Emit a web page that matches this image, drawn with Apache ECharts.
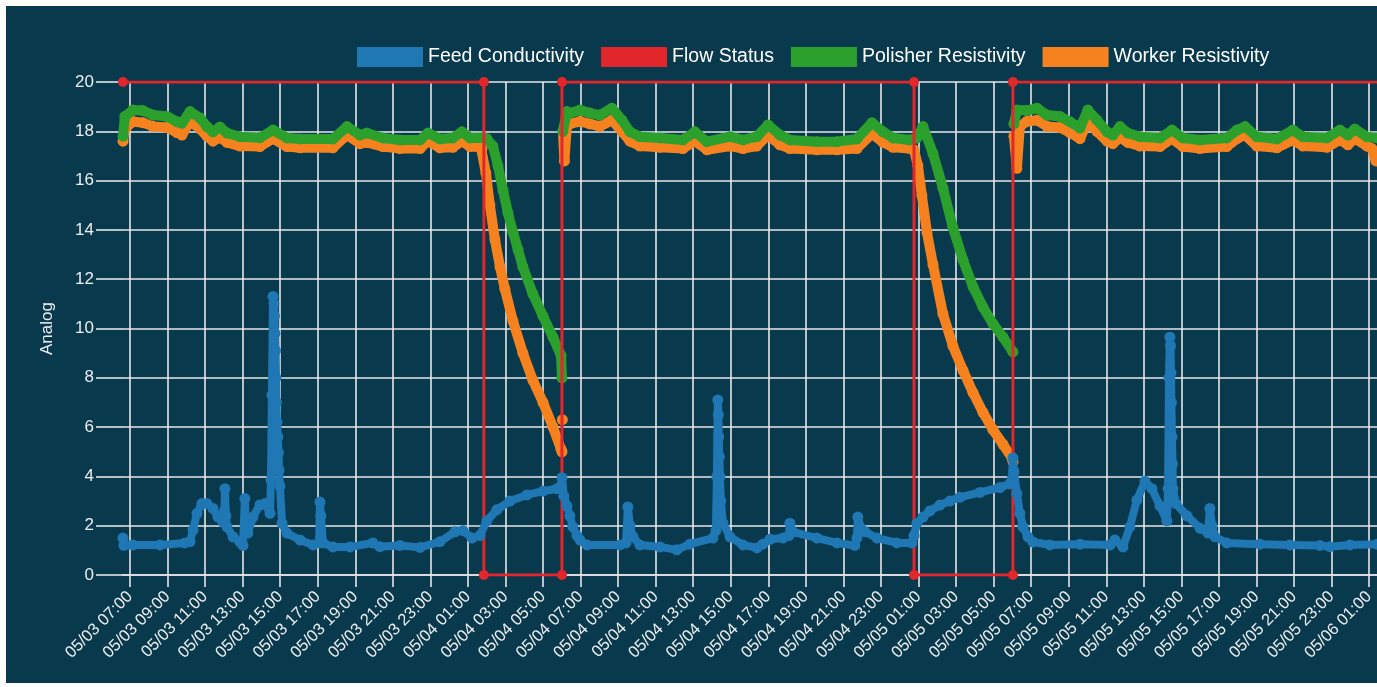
<!DOCTYPE html>
<html><head><meta charset="utf-8">
<script src="https://cdn.jsdelivr.net/npm/echarts@6/dist/echarts.min.js"></script>
<style>
html,body{margin:0;padding:0;background:#ffffff;width:1377px;height:687px;overflow:hidden}
#chart{position:absolute;left:6px;top:6px;width:1371px;height:677px;background:#08394d}
</style></head><body><div id="chart"></div>
<script>
// x values are hours counted from 05/03 00:00
const tickLabels = ['05/03 07:00','05/03 09:00','05/03 11:00','05/03 13:00','05/03 15:00','05/03 17:00','05/03 19:00','05/03 21:00','05/03 23:00',
  '05/04 01:00','05/04 03:00','05/04 05:00','05/04 07:00','05/04 09:00','05/04 11:00','05/04 13:00','05/04 15:00','05/04 17:00','05/04 19:00','05/04 21:00','05/04 23:00',
  '05/05 01:00','05/05 03:00','05/05 05:00','05/05 07:00','05/05 09:00','05/05 11:00','05/05 13:00','05/05 15:00','05/05 17:00','05/05 19:00','05/05 21:00','05/05 23:00',
  '05/06 01:00'];
const yTicks = [0,2,4,6,8,10,12,14,16,18,20];
const seriesNames = ['Feed Conductivity','Flow Status','Polisher Resistivity','Worker Resistivity'];
const X_MIN = 6.63, X_MAX = 73.42;

const flowStatus = [[6.63,20],[25.85,20],[25.85,0],[30.01,0],[30.01,20],[48.76,20],[48.76,0],[54.03,0],[54.03,20],[74.5,20]];

const feedConductivity = [[6.63,1.5],[6.68,1.2],[7.16,1.22],[8.60,1.22],[9.93,1.3],[10.20,1.35],[10.36,1.83],[10.57,2.5],[10.83,2.9],[11.10,2.9],[11.42,2.7],[11.69,2.35],[11.95,2.15],[12.03,2.6],[12.06,3.5],[12.11,2.4],[12.17,1.95],[12.49,1.55],[12.86,1.34],[13.02,1.2],[13.12,3.1],[13.18,2.0],[13.28,1.7],[13.55,2.35],[13.92,2.84],[14.19,2.9],[14.46,2.5],[14.51,3.85],[14.56,7.3],[14.62,11.3],[14.67,11.0],[14.70,10.5],[14.72,9.8],[14.75,9.1],[14.78,8.0],[14.80,7.0],[14.83,6.2],[14.88,5.6],[14.91,4.95],[14.94,4.26],[14.99,3.6],[15.10,2.1],[15.36,1.7],[16.06,1.42],[16.75,1.22],[17.07,1.3],[17.12,2.96],[17.17,2.4],[17.28,1.3],[17.81,1.14],[18.72,1.14],[19.94,1.3],[20.31,1.15],[21.38,1.2],[22.45,1.12],[23.51,1.35],[24.31,1.75],[24.74,1.8],[25.22,1.5],[25.64,1.6],[26.01,2.2],[26.55,2.65],[27.24,3.0],[28.14,3.25],[29.00,3.4],[29.74,3.5],[29.96,3.6],[30.01,3.95],[30.11,3.2],[30.27,2.8],[30.43,2.4],[30.59,1.95],[30.81,1.6],[30.97,1.42],[31.34,1.22],[33.10,1.22],[33.42,1.3],[33.52,2.76],[33.63,2.0],[33.79,1.55],[34.16,1.22],[35.23,1.14],[36.13,1.02],[36.82,1.25],[38.05,1.5],[38.21,1.8],[38.26,4.0],[38.31,7.1],[38.34,6.5],[38.36,5.6],[38.39,4.8],[38.42,4.0],[38.47,3.0],[38.58,2.1],[38.96,1.55],[39.65,1.22],[40.39,1.1],[40.71,1.25],[41.09,1.45],[41.78,1.5],[42.10,1.6],[42.15,2.1],[42.31,1.75],[43.59,1.5],[44.66,1.3],[45.61,1.2],[45.72,1.5],[45.77,2.35],[45.93,1.9],[46.15,1.75],[46.79,1.5],[47.85,1.3],[48.65,1.3],[48.76,1.6],[48.92,2.1],[49.24,2.35],[49.61,2.6],[50.14,2.84],[50.67,3.0],[51.20,3.15],[52.27,3.35],[53.34,3.55],[53.87,3.7],[53.98,3.9],[54.03,4.75],[54.08,4.2],[54.24,3.3],[54.40,2.5],[54.56,1.95],[54.83,1.55],[55.09,1.34],[56.00,1.22],[57.60,1.25],[59.20,1.22],[59.46,1.42],[59.89,1.14],[60.26,1.95],[60.63,3.04],[61.06,3.8],[61.43,3.5],[61.86,2.8],[62.23,2.2],[62.29,3.5],[62.34,8.0],[62.39,9.65],[62.42,9.3],[62.45,8.2],[62.47,7.0],[62.50,5.6],[62.53,4.5],[62.55,3.5],[62.71,2.9],[63.30,2.4],[63.99,1.9],[64.42,1.7],[64.52,2.7],[64.63,2.0],[64.79,1.55],[65.42,1.3],[67.18,1.25],[68.78,1.22],[70.38,1.2],[70.91,1.15],[71.98,1.22],[73.42,1.25],[74.10,1.2]];

// null entries mark the gaps while the flow is off
const polisherResistivity = [[6.63,17.8],[6.73,18.6],[7.16,18.86],[7.69,18.84],[8.22,18.66],[8.97,18.6],[9.50,18.39],[9.77,18.33],[10.20,18.8],[10.73,18.54],[11.10,18.19],[11.42,17.98],[11.79,18.17],[12.17,17.93],[12.86,17.78],[13.92,17.74],[14.62,18.05],[15.36,17.73],[16.06,17.69],[17.81,17.69],[18.56,18.19],[19.25,17.85],[19.62,17.93],[20.47,17.73],[21.38,17.65],[22.45,17.65],[22.87,17.93],[23.51,17.69],[24.20,17.73],[24.68,17.98],[25.11,17.73],[25.80,17.74],[26.01,17.7],[26.33,17.4],[26.60,16.6],[26.87,15.6],[27.13,14.7],[27.40,13.9],[27.67,13.2],[27.93,12.5],[28.46,11.4],[29.00,10.5],[29.53,9.65],[29.96,8.9],[30.01,8.0],[30.03,null],[30.06,18.0],[30.27,18.8],[30.43,18.74],[30.97,18.86],[31.50,18.74],[32.03,18.66],[32.67,18.94],[33.20,18.46],[33.63,17.98],[34.16,17.78],[35.23,17.73],[36.45,17.65],[37.09,17.98],[37.73,17.58],[38.96,17.78],[39.65,17.65],[40.39,17.78],[40.98,18.26],[41.62,17.85],[42.15,17.65],[43.59,17.58],[44.66,17.58],[45.72,17.69],[46.52,18.35],[47.11,17.98],[47.64,17.73],[48.54,17.65],[48.92,17.73],[49.24,18.19],[49.77,17.1],[50.30,15.7],[50.83,14.1],[51.37,12.78],[51.90,11.7],[52.43,10.87],[52.96,10.2],[53.50,9.65],[54.03,9.05],[54.05,null],[54.08,18.3],[54.24,18.86],[54.77,18.84],[55.31,18.94],[55.84,18.66],[56.53,18.6],[57.06,18.39],[57.60,18.13],[58.02,18.86],[58.50,18.46],[59.04,17.98],[59.35,17.85],[59.73,18.19],[60.15,17.93],[60.79,17.78],[61.86,17.73],[62.50,18.05],[63.08,17.73],[63.99,17.65],[65.42,17.73],[65.96,18.05],[66.39,18.19],[67.02,17.78],[68.09,17.69],[68.94,18.05],[69.47,17.78],[70.75,17.73],[71.44,18.05],[71.87,17.85],[72.24,18.09],[72.88,17.78],[73.42,17.73],[74.10,17.7]];

const workerResistivity = [[6.63,17.6],[6.73,18.1],[7.16,18.4],[7.69,18.35],[8.22,18.2],[8.97,18.15],[9.50,17.95],[9.77,17.85],[10.20,18.4],[10.73,18.1],[11.10,17.8],[11.42,17.6],[11.79,17.75],[12.17,17.55],[12.86,17.4],[13.92,17.38],[14.62,17.7],[15.36,17.38],[16.06,17.33],[17.81,17.33],[18.56,17.85],[19.25,17.5],[19.62,17.55],[20.47,17.38],[21.38,17.3],[22.45,17.3],[22.87,17.6],[23.51,17.33],[24.20,17.35],[24.68,17.6],[25.11,17.38],[25.69,17.35],[25.75,17.3],[25.96,16.3],[26.17,15.0],[26.44,13.6],[26.71,12.5],[26.97,11.6],[27.40,10.3],[27.93,9.0],[28.46,7.9],[29.00,7.0],[29.53,6.0],[29.96,5.1],[30.01,5.0],[30.02,null],[30.03,6.3],[30.04,null],[30.06,18.0],[30.14,16.8],[30.27,18.2],[30.43,18.3],[30.97,18.4],[31.50,18.3],[32.03,18.2],[32.67,18.45],[33.20,18.0],[33.63,17.6],[34.16,17.4],[35.23,17.35],[36.45,17.3],[37.09,17.6],[37.73,17.25],[38.96,17.4],[39.65,17.3],[40.39,17.4],[40.98,17.85],[41.62,17.45],[42.15,17.3],[43.59,17.25],[44.66,17.25],[45.72,17.3],[46.52,17.9],[47.11,17.55],[47.64,17.35],[48.54,17.3],[48.76,17.25],[48.97,16.6],[49.18,15.4],[49.45,13.9],[49.77,12.6],[50.30,10.6],[50.83,9.3],[51.37,8.3],[51.90,7.4],[52.43,6.6],[52.96,5.9],[53.50,5.3],[53.98,4.75],[54.03,4.6],[54.05,null],[54.08,17.8],[54.24,16.5],[54.40,18.2],[54.77,18.4],[55.31,18.45],[55.84,18.2],[56.53,18.15],[57.06,17.95],[57.60,17.7],[58.02,18.4],[58.50,18.0],[59.04,17.6],[59.35,17.5],[59.73,17.75],[60.15,17.55],[60.79,17.4],[61.86,17.38],[62.50,17.7],[63.08,17.38],[63.99,17.3],[65.42,17.38],[65.96,17.7],[66.39,17.85],[67.02,17.4],[68.09,17.33],[68.94,17.65],[69.47,17.4],[70.75,17.35],[71.44,17.65],[71.87,17.45],[72.24,17.7],[72.88,17.4],[73.15,17.3],[73.36,16.8],[74.10,16.6]];

const COLORS = {feed:'#1f77b4', flow:'#e1262c', pol:'#2ca02c', work:'#f5821f'};
const GRID_COLOR = '#e6e8ea';
const FONT = 'Liberation Sans, Arial, Helvetica, sans-serif';

function tickHour(label){
  const day = parseInt(label.slice(3,5),10), hour = parseInt(label.slice(6,8),10);
  return (day-3)*24 + hour;
}
const tickHours = tickLabels.map(tickHour);
const labelByHour = {};
tickLabels.forEach((l,i)=>{ labelByHour[tickHours[i]] = l; });

const chart = echarts.init(document.getElementById('chart'), null, {renderer:'canvas'});
const baseLine = (name, data, color, width, sym, z) => ({
  name, type:'line', data, z,
  color,
  lineStyle:{color, width, cap:'round', join:'round'},
  itemStyle:{color},
  symbol:'circle', symbolSize:sym, showSymbol:true, showAllSymbol:true,
  connectNulls:false,
  emphasis:{disabled:true}, animation:false, clip:true
});
chart.setOption({
  animation:false,
  backgroundColor:'transparent',
  legend:{
    top:36, left:346, itemWidth:66, itemHeight:20, itemGap:17, icon:'rect',
    data:seriesNames,
    textStyle:{color:'#ffffff', fontSize:19.5, fontFamily:FONT},
    selectedMode:false
  },
  grid:{left:117, right:0, top:76, bottom:108, containLabel:false, outerBoundsMode:'none'},
  xAxis:{
    type:'value', min:X_MIN, max:X_MAX,
    axisLine:{show:true, lineStyle:{color:GRID_COLOR, width:1.6}},
    axisTick:{show:true, length:12, customValues:tickHours, lineStyle:{color:GRID_COLOR, width:1.6}},
    axisLabel:{customValues:tickHours, rotate:45, margin:19, color:'#eeeeee', fontSize:16.5, fontFamily:FONT,
      formatter:(v)=> labelByHour[Math.round(v)] || ''},
    splitLine:{show:true, lineStyle:{color:GRID_COLOR, width:1.6}}
  },
  yAxis:{
    type:'value', min:yTicks[0], max:yTicks[yTicks.length-1], interval:2,
    name:'Analog', nameLocation:'middle', nameGap:67, nameRotate:90,
    nameTextStyle:{color:'#eeeeee', fontSize:17, fontFamily:FONT},
    axisLine:{show:false},
    axisTick:{show:true, length:27, lineStyle:{color:GRID_COLOR, width:1.6}},
    axisLabel:{margin:29, color:'#eeeeee', fontSize:17, fontFamily:FONT},
    splitLine:{show:true, lineStyle:{color:GRID_COLOR, width:1.6}}
  },
  series:[
    baseLine(seriesNames[3], workerResistivity, COLORS.work, 10, 11, 2),
    baseLine(seriesNames[2], polisherResistivity, COLORS.pol, 10, 11, 3),
    baseLine(seriesNames[1], flowStatus, COLORS.flow, 3, 10, 4),
    baseLine(seriesNames[0], feedConductivity, COLORS.feed, 8, 11, 5)
  ]
});
</script></body></html>
